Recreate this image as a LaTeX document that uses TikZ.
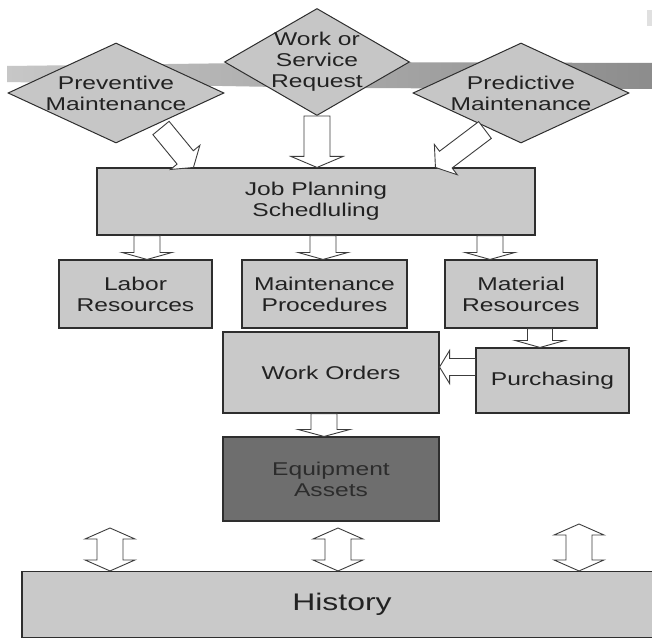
\documentclass[tikz,border=0pt]{standalone}
\usepackage{fontspec}
\setmainfont{Liberation Sans}[FakeStretch=1.33]
\usetikzlibrary{shapes.geometric,calc}
\definecolor{boxfill}{HTML}{C9C9C9}
\definecolor{dmdfill}{HTML}{C6C6C6}
\definecolor{eqfill}{HTML}{6E6E6E}
\definecolor{edge}{HTML}{2E2E2E}
\definecolor{ink}{HTML}{222222}
\definecolor{eqink}{HTML}{2C2C2C}
\definecolor{arrline}{HTML}{3C3C3C}
\newcommand\blockarr[5]{%
  \coordinate (ba-h) at ($(#2)!#5!(#1)$);
  \draw[barrow] ($(#1)!#3!90:(#2)$) -- ($(ba-h)!#3!-90:(#1)$) -- ($(ba-h)!#4!-90:(#1)$)
    -- (#2) -- ($(ba-h)!#4!90:(#1)$) -- ($(ba-h)!#3!90:(#1)$) -- ($(#1)!#3!-90:(#2)$) -- cycle;}
\newcommand\dblockarr[5]{%
  \coordinate (da-h1) at ($(#2)!#5!(#1)$);
  \coordinate (da-h2) at ($(#1)!#5!(#2)$);
  \draw[barrow] (#1) -- ($(da-h2)!#4!90:(#2)$) -- ($(da-h2)!#3!90:(#2)$)
    -- ($(da-h1)!#3!-90:(#1)$) -- ($(da-h1)!#4!-90:(#1)$) -- (#2)
    -- ($(da-h1)!#4!90:(#1)$) -- ($(da-h1)!#3!90:(#1)$)
    -- ($(da-h2)!#3!-90:(#2)$) -- ($(da-h2)!#4!-90:(#2)$) -- cycle;}
\begin{document}
\begin{tikzpicture}[x=1pt,y=-1pt,
  lbl/.style={font=\fontsize{18.5}{21}\selectfont, text=ink, align=center, inner sep=0pt},
  rbox/.style={rectangle, draw=edge, line width=1.1pt, fill=boxfill, inner sep=0pt,
    font=\fontsize{18.5}{21}\selectfont, text=ink, align=center},
  diam/.style={diamond, draw=edge, line width=1pt, fill=dmdfill, inner sep=0pt},
  barrow/.style={draw=arrline, line width=0.9pt, fill=white, line join=miter}]
\useasboundingbox (0,0) rectangle (652,639);
\fill[white] (0,0) rectangle (652,639);
% brush band
\shade[left color=black!22, right color=black!45] (7,66) -- (330,62) -- (652,63) -- (652,89) -- (330,88) -- (7,82) -- cycle;
\fill[black!12] (647,10) rectangle (652,26);
% diamonds
\node[diam, minimum width=216pt, minimum height=100pt] (pm) at (116,93) {};
\node[diam, minimum width=185pt, minimum height=107pt] (wsr) at (317,62) {};
\node[diam, minimum width=216pt, minimum height=100pt] (prm) at (521,93) {};
\node[lbl] (pmt) at (pm.center) {Preventive\\Maintenance};
\node[lbl] (wsrt) at (wsr.center) {Work or\\Service\\Request};
\node[lbl] (prmt) at (prm.center) {Predictive\\Maintenance};
% boxes
\node[rbox, minimum width=438pt, minimum height=67pt] (jp) at (316,201.5) {Job Planning\\Schedluling};
\node[rbox, minimum width=153pt, minimum height=68pt] (lab) at (135.5,294) {Labor\\Resources};
\node[rbox, minimum width=165pt, minimum height=68pt] (mp) at (324.5,294) {Maintenance\\Procedures};
\node[rbox, minimum width=152pt, minimum height=68pt] (mr) at (521,294) {Material\\Resources};
\node[rbox, minimum width=216pt, minimum height=81pt] (wo) at (331,372.5) {Work Orders};
\node[rbox, minimum width=153pt, minimum height=65pt] (pur) at (552.5,380.5) {Purchasing};
\node[rbox, fill=eqfill, text=eqink, minimum width=216pt, minimum height=84pt] (eq) at (331,479) {Equipment\\Assets};
\node[rbox, minimum width=640pt, minimum height=66pt, font=\fontsize{24}{28}\selectfont] (hist) at (342,604.5) {History};
% arrow end points
\coordinate (a1s) at ($(pm.center)+(45,35)$);
\coordinate (a1e) at ($(jp.north west)+(97,0)$);
\coordinate (a2s) at (wsr.south);
\coordinate (a2e) at (jp.north -| wsr.south);
\coordinate (a3s) at ($(prm.center)+(-36,37)$);
\coordinate (a3e) at ($(jp.north west)+(339,0)$);
\coordinate (a4s) at ($(jp.south -| lab.north)+(11.5,0)$);
\coordinate (a4e) at (a4s |- lab.north);
\coordinate (a5s) at ($(jp.south -| mp.north)+(-1.5,0)$);
\coordinate (a5e) at (a5s |- mp.north);
\coordinate (a6s) at ($(jp.south -| mr.north)+(-31,0)$);
\coordinate (a6e) at (a6s |- mr.north);
\coordinate (a7s) at ($(mr.south)+(19,0)$);
\coordinate (a7e) at (a7s |- pur.north);
\coordinate (a8s) at ($(pur.west)+(0,-13.5)$);
\coordinate (a8e) at (a8s -| wo.east);
\coordinate (a9s) at ($(wo.south)+(-7,0)$);
\coordinate (a9e) at (a9s |- eq.north);
\coordinate (d1s) at (110,528);
\coordinate (d1e) at (d1s |- hist.north);
\coordinate (d2s) at (338,528);
\coordinate (d2e) at (d2s |- hist.north);
\coordinate (d3s) at (579,524);
\coordinate (d3e) at (d3s |- hist.north);
% arrows
\blockarr{a1s}{a1e}{10.5pt}{19pt}{13pt}
\blockarr{a2s}{a2e}{13pt}{26pt}{11pt}
\blockarr{a3s}{a3e}{10.5pt}{19pt}{13pt}
\blockarr{a4s}{a4e}{13pt}{25pt}{7pt}
\blockarr{a5s}{a5e}{13pt}{25pt}{7pt}
\blockarr{a6s}{a6e}{13pt}{25pt}{7pt}
\blockarr{a7s}{a7e}{12.5pt}{25pt}{7pt}
\blockarr{a8s}{a8e}{8.5pt}{16.5pt}{10pt}
\blockarr{a9s}{a9e}{13pt}{26pt}{7pt}
\dblockarr{d1s}{d1e}{13pt}{25pt}{11pt}
\dblockarr{d2s}{d2e}{13pt}{25pt}{11pt}
\dblockarr{d3s}{d3e}{13pt}{25pt}{11pt}
\end{tikzpicture}
\end{document}
